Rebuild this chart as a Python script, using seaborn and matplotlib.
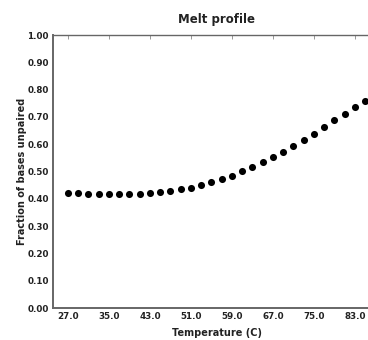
import numpy as np
import pandas as pd
import matplotlib
matplotlib.use('Agg')
import matplotlib.pyplot as plt
import seaborn as sns

temps = [27, 29, 31, 33, 35, 37, 39, 41, 43, 45, 47, 49, 51, 53, 55,
         57, 59, 61, 63, 65, 67, 69, 71, 73, 75, 77, 79, 81, 83, 85]
unpaired = [0.422, 0.420, 0.419, 0.418, 0.418, 0.418, 0.418, 0.419, 0.421, 0.425,
            0.430, 0.435, 0.441, 0.452, 0.462, 0.473, 0.485, 0.501, 0.517, 0.534,
            0.553, 0.573, 0.595, 0.616, 0.639, 0.664, 0.688, 0.712, 0.735, 0.758]
xticks = [27.0, 35.0, 43.0, 51.0, 59.0, 67.0, 75.0, 83.0]
yticks = [0.0, 0.1, 0.2, 0.3, 0.4, 0.5, 0.6, 0.7, 0.8, 0.9, 1.0]

df = pd.DataFrame({'Temperature': temps, 'Unpaired': unpaired})

sns.set_style('white')
plt.rcParams['font.family'] = ['DejaVu Sans']

fig = plt.figure(figsize=(3.68, 3.40), dpi=100)
# axes run a bit past the right edge, like the original crop
ax = fig.add_axes([0.144, 0.094, 0.891, 0.803])
sns.scatterplot(data=df, x='Temperature', y='Unpaired', color='black',
                s=26, edgecolor='black', linewidth=0, ax=ax)

ax.set_xlim(24.07, 88.07)
ax.set_ylim(0, 1.0)
ax.set_xticks(xticks)
ax.set_xticklabels([f'{t:.1f}' for t in xticks], fontweight='bold')
ax.set_yticks(yticks)
ax.set_yticklabels([f'{t:.2f}' for t in yticks], fontweight='bold')
ax.tick_params(direction='in', length=3, width=0.6, labelsize=6.3,
               top=True, right=True, pad=3)
ax.tick_params(colors='#888888', which='both', labelcolor='#222222')
for s in ax.spines.values():
    s.set_color('#666666')
    s.set_linewidth(1.0)
ax.spines['left'].set_linewidth(1.4)
ax.spines['bottom'].set_linewidth(1.4)

ax.set_title('Melt profile', fontsize=8.5, pad=9, color='#222222', fontweight='bold')
ax.set_xlabel('Temperature (C)', fontsize=7, labelpad=5, color='#222222', fontweight='bold')
ax.set_ylabel('Fraction of bases unpaired', fontsize=7, labelpad=0, color='#222222',
              fontweight='bold')

fig.savefig('out.png', dpi=100)
